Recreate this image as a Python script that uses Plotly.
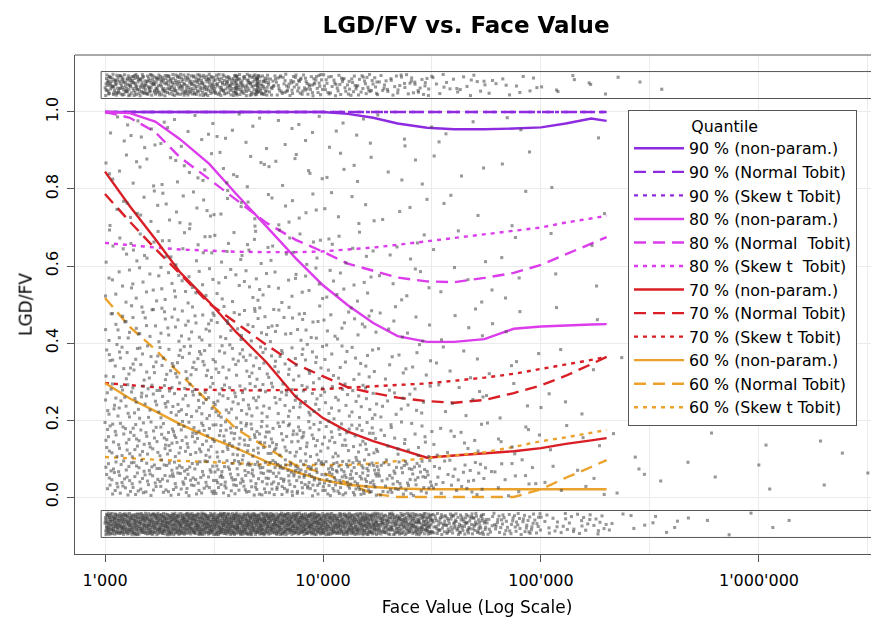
import math
import plotly.graph_objects as go

# ---------------- data ----------------
face_value = [1000, 1300, 1700, 2200, 3000, 4000, 5500, 7500, 10000, 13000,
              17000, 22000, 30000, 40000, 55000, 75000, 100000, 130000, 170000, 200000]

q90_np = [1.0, 1.0, 1.0, 1.0, 1.0, 1.0, 1.0, 1.0, 1.0, 0.995,
          0.985, 0.97, 0.959, 0.955, 0.955, 0.957, 0.96, 0.97, 0.983, 0.977]
q90_nt = [1.0, 1.0, 1.0, 1.0, 1.0, 1.0, 1.0, 1.0, 1.0, 1.0,
          1.0, 1.0, 1.0, 1.0, 1.0, 1.0, 1.0, 1.0, 1.0, 1.0]
q90_st = [1.0, 1.0, 1.0, 1.0, 1.0, 1.0, 1.0, 1.0, 1.0, 1.0,
          1.0, 1.0, 1.0, 1.0, 1.0, 1.0, 1.0, 1.0, 1.0, 1.0]
q80_np = [1.0, 0.997, 0.975, 0.93, 0.866, 0.787, 0.703, 0.62, 0.55, 0.498,
          0.452, 0.418, 0.403, 0.403, 0.41, 0.437, 0.443, 0.446, 0.448, 0.449]
q80_nt = [1.0, 0.985, 0.948, 0.883, 0.826, 0.772, 0.712, 0.668, 0.637, 0.606,
          0.588, 0.57, 0.56, 0.558, 0.569, 0.582, 0.603, 0.63, 0.658, 0.675]
q80_st = [0.66, 0.655, 0.648, 0.643, 0.64, 0.637, 0.636, 0.636, 0.638, 0.642,
          0.648, 0.655, 0.664, 0.673, 0.683, 0.692, 0.70, 0.713, 0.723, 0.73]
q70_np = [0.845, 0.755, 0.67, 0.585, 0.507, 0.428, 0.35, 0.26, 0.205, 0.17,
          0.145, 0.125, 0.102, 0.108, 0.114, 0.119, 0.127, 0.138, 0.147, 0.153]
q70_nt = [0.787, 0.715, 0.645, 0.58, 0.503, 0.452, 0.395, 0.345, 0.313, 0.285,
          0.27, 0.258, 0.249, 0.245, 0.252, 0.27, 0.29, 0.315, 0.345, 0.364]
q70_st = [0.296, 0.29, 0.285, 0.28, 0.278, 0.277, 0.277, 0.278, 0.28, 0.284,
          0.287, 0.29, 0.295, 0.302, 0.31, 0.32, 0.332, 0.343, 0.356, 0.364]
q60_np = [0.296, 0.256, 0.223, 0.19, 0.155, 0.127, 0.092, 0.065, 0.044, 0.032,
          0.026, 0.022, 0.02, 0.02, 0.02, 0.02, 0.02, 0.02, 0.02, 0.02]
q60_nt = [0.517, 0.442, 0.383, 0.322, 0.246, 0.177, 0.13, 0.082, 0.063, 0.035,
          0.008, 0.0, 0.0, 0.0, 0.0, 0.0, 0.02, 0.05, 0.078, 0.096]
q60_st = [0.104, 0.1, 0.097, 0.094, 0.09, 0.087, 0.084, 0.083, 0.083, 0.083,
          0.087, 0.093, 0.10, 0.107, 0.116, 0.13, 0.145, 0.155, 0.167, 0.174]

# point-cloud density (counts per cell)
logfv_edges = [3.0, 3.25, 3.5, 3.75, 4.0, 4.25, 4.5, 4.75, 5.0, 5.3, 5.7, 6.1, 6.5]
lgd_edges = [0.0, 0.1, 0.2, 0.3, 0.4, 0.5, 0.6, 0.7, 0.8, 0.9, 1.0]
mid_counts = [  # one row per LGD band (low -> high), one column per log(FV) band
    [62, 68, 78, 88, 92, 62, 30, 14, 7, 5, 3, 2],
    [50, 55, 55, 50, 40, 22, 12, 8, 4, 3, 2, 2],
    [40, 42, 40, 35, 28, 15, 8, 5, 3, 1, 1, 0],
    [32, 35, 32, 28, 20, 12, 6, 4, 2, 1, 0, 0],
    [26, 28, 25, 22, 16, 9, 5, 3, 2, 0, 1, 0],
    [18, 19, 17, 14, 11, 7, 4, 3, 2, 0, 0, 0],
    [14, 14, 13, 11, 8, 5, 3, 2, 2, 0, 0, 0],
    [11, 12, 10, 9, 7, 4, 3, 2, 1, 0, 0, 0],
    [10, 10, 9, 8, 6, 4, 3, 2, 1, 0, 0, 0],
    [10, 10, 8, 7, 6, 4, 3, 2, 1, 0, 0, 0],
]
top_band_counts = [170, 160, 150, 80, 60, 40, 20, 12, 8, 3, 0, 0]          # LGD = 1
bottom_band_counts = [300, 320, 330, 320, 280, 220, 120, 60, 35, 12, 4, 1]  # LGD = 0
top_streak_fv = [4000, 5000]
top_streak_counts = [9, 11]
top_band_lgd = [1.042, 1.098]
bottom_band_lgd = [-0.098, -0.042]
band_box_top = [1.035, 1.105]
band_box_bottom = [-0.105, -0.035]
band_box_left_fv = 960
band_box_right_fv = 1e7

# ---------------- helpers ----------------
def halton(i, b):
    f, r = 1.0, 0.0
    while i > 0:
        f /= b
        r += f * (i % b)
        i //= b
    return r

counter = [0]
def fill_cell(lx0, lx1, y0, y1, n, xs, ys):
    for _ in range(n):
        counter[0] += 1
        u = halton(counter[0], 2)
        v = halton(counter[0], 3)
        xs.append(10 ** (lx0 + u * (lx1 - lx0)))
        ys.append(y0 + v * (y1 - y0))

px, py = [], []
for r, row in enumerate(mid_counts):
    for c, n in enumerate(row):
        fill_cell(logfv_edges[c], logfv_edges[c + 1], lgd_edges[r] + 0.003,
                  lgd_edges[r + 1] - 0.003, n, px, py)
for c, n in enumerate(top_band_counts):
    fill_cell(logfv_edges[c], logfv_edges[c + 1], top_band_lgd[0], top_band_lgd[1], n, px, py)
for c, n in enumerate(bottom_band_counts):
    fill_cell(logfv_edges[c], logfv_edges[c + 1], bottom_band_lgd[0], bottom_band_lgd[1], n, px, py)
for fv, n in zip(top_streak_fv, top_streak_counts):
    fill_cell(math.log10(fv) - 0.004, math.log10(fv) + 0.004, top_band_lgd[0], top_band_lgd[1], n, px, py)

# ---------------- figure ----------------
# the page body has an 8px margin, so the figure is 8px smaller than the window
W, H = 871, 613
FONT = "DejaVu Sans"
fig = go.Figure()
fig.add_trace(go.Scattergl(x=px, y=py, mode="markers", showlegend=False, hoverinfo="skip",
                           marker=dict(symbol="square", size=3, color="rgba(65,65,65,0.55)",
                                       line=dict(width=0))))

c90, c80, c70, c60 = "#8E2BE0", "#DC3CEC", "#D91E26", "#EBA22C"
DASH = "12px,7px"
DOT = "4px,5px"
series = [
    ("90 % (non-param.)", q90_np, c90, "solid"),
    ("90 % (Normal Tobit)", q90_nt, c90, DASH),
    ("90 % (Skew t Tobit)", q90_st, c90, DOT),
    ("80 % (non-param.)", q80_np, c80, "solid"),
    ("80 % (Normal\u00a0 Tobit)", q80_nt, c80, DASH),
    ("80 % (Skew t\u00a0 Tobit)", q80_st, c80, DOT),
    ("70 % (non-param.)", q70_np, c70, "solid"),
    ("70 % (Normal Tobit)", q70_nt, c70, DASH),
    ("70 % (Skew t Tobit)", q70_st, c70, DOT),
    ("60 % (non-param.)", q60_np, c60, "solid"),
    ("60 % (Normal Tobit)", q60_nt, c60, DASH),
    ("60 % (Skew t Tobit)", q60_st, c60, DOT),
]
for name, vals, col, dash in series:
    fig.add_trace(go.Scatter(x=face_value, y=vals, mode="lines", name=name,
                             line=dict(color=col, width=2.4, dash=dash)))

# frames around the jitter bands (values exactly 1 and exactly 0)
for lo, hi in (band_box_top, band_box_bottom):
    fig.add_shape(type="rect", xref="x", yref="y",
                  x0=band_box_left_fv, x1=band_box_right_fv, y0=lo, y1=hi,
                  line=dict(color="#555555", width=1), layer="above")
# top frame line of plotting region
fig.add_shape(type="line", xref="paper", yref="paper", x0=0, x1=1, y0=1, y1=1,
              line=dict(color="#555555", width=1))

grid = "#ebebeb"
fig.update_layout(
    width=W, height=H,
    margin=dict(l=67, r=0, t=47, b=67, autoexpand=False),
    paper_bgcolor="white", plot_bgcolor="white",
    font=dict(family=FONT, size=16, color="black"),
    title=dict(text="<b>LGD/FV vs. Face Value</b>", x=458 / W, xref="container",
               xanchor="center", y=1 - 17 / H, yref="container", yanchor="middle",
               font=dict(family=FONT, size=23, color="black")),
    xaxis=dict(type="log", range=[2.8624, 6.5505], automargin=False,
               tickvals=[1e3, 1e4, 1e5, 1e6],
               ticktext=["1'000", "10'000", "100'000", "1'000'000"],
               ticks="outside", ticklen=7, tickcolor="#555555",
               ticklabelstandoff=5,
               showline=True, linecolor="#555555", linewidth=1,
               showgrid=True, gridcolor=grid, zeroline=False,
               minor=dict(tickvals=[10 ** 3.5, 10 ** 4.5, 10 ** 5.5, 10 ** 6.5],
                          showgrid=True, gridcolor=grid, ticks=""),
               tickfont=dict(size=16),
               title=dict(text="Face Value (Log Scale)", font=dict(size=17), standoff=11)),
    yaxis=dict(range=[-0.148, 1.148], automargin=False,
               tickvals=[0, 0.2, 0.4, 0.6, 0.8, 1.0],
               ticktext=["0.0", "0.2", "0.4", "0.6", "0.8", "1.0"],
               tickangle=-90, ticks="outside", ticklen=7, tickcolor="#555555",
               ticklabelstandoff=3,
               showline=True, linecolor="#555555", linewidth=1,
               showgrid=True, gridcolor=grid, zeroline=False,
               tickfont=dict(size=16),
               title=dict(text="LGD/FV", font=dict(size=17), standoff=6)),
    legend=dict(x=(628 - 75) / 804, y=1 - (110 - 55) / 499, xanchor="left", yanchor="top",
                bgcolor="white", bordercolor="#555555", borderwidth=1,
                itemwidth=50,
                font=dict(family=FONT, size=15.8, color="black"),
                title=dict(text="\u00a0" * 12 + "Quantile", font=dict(family=FONT, size=15.8))),
)

fig.write_html("out.html")
